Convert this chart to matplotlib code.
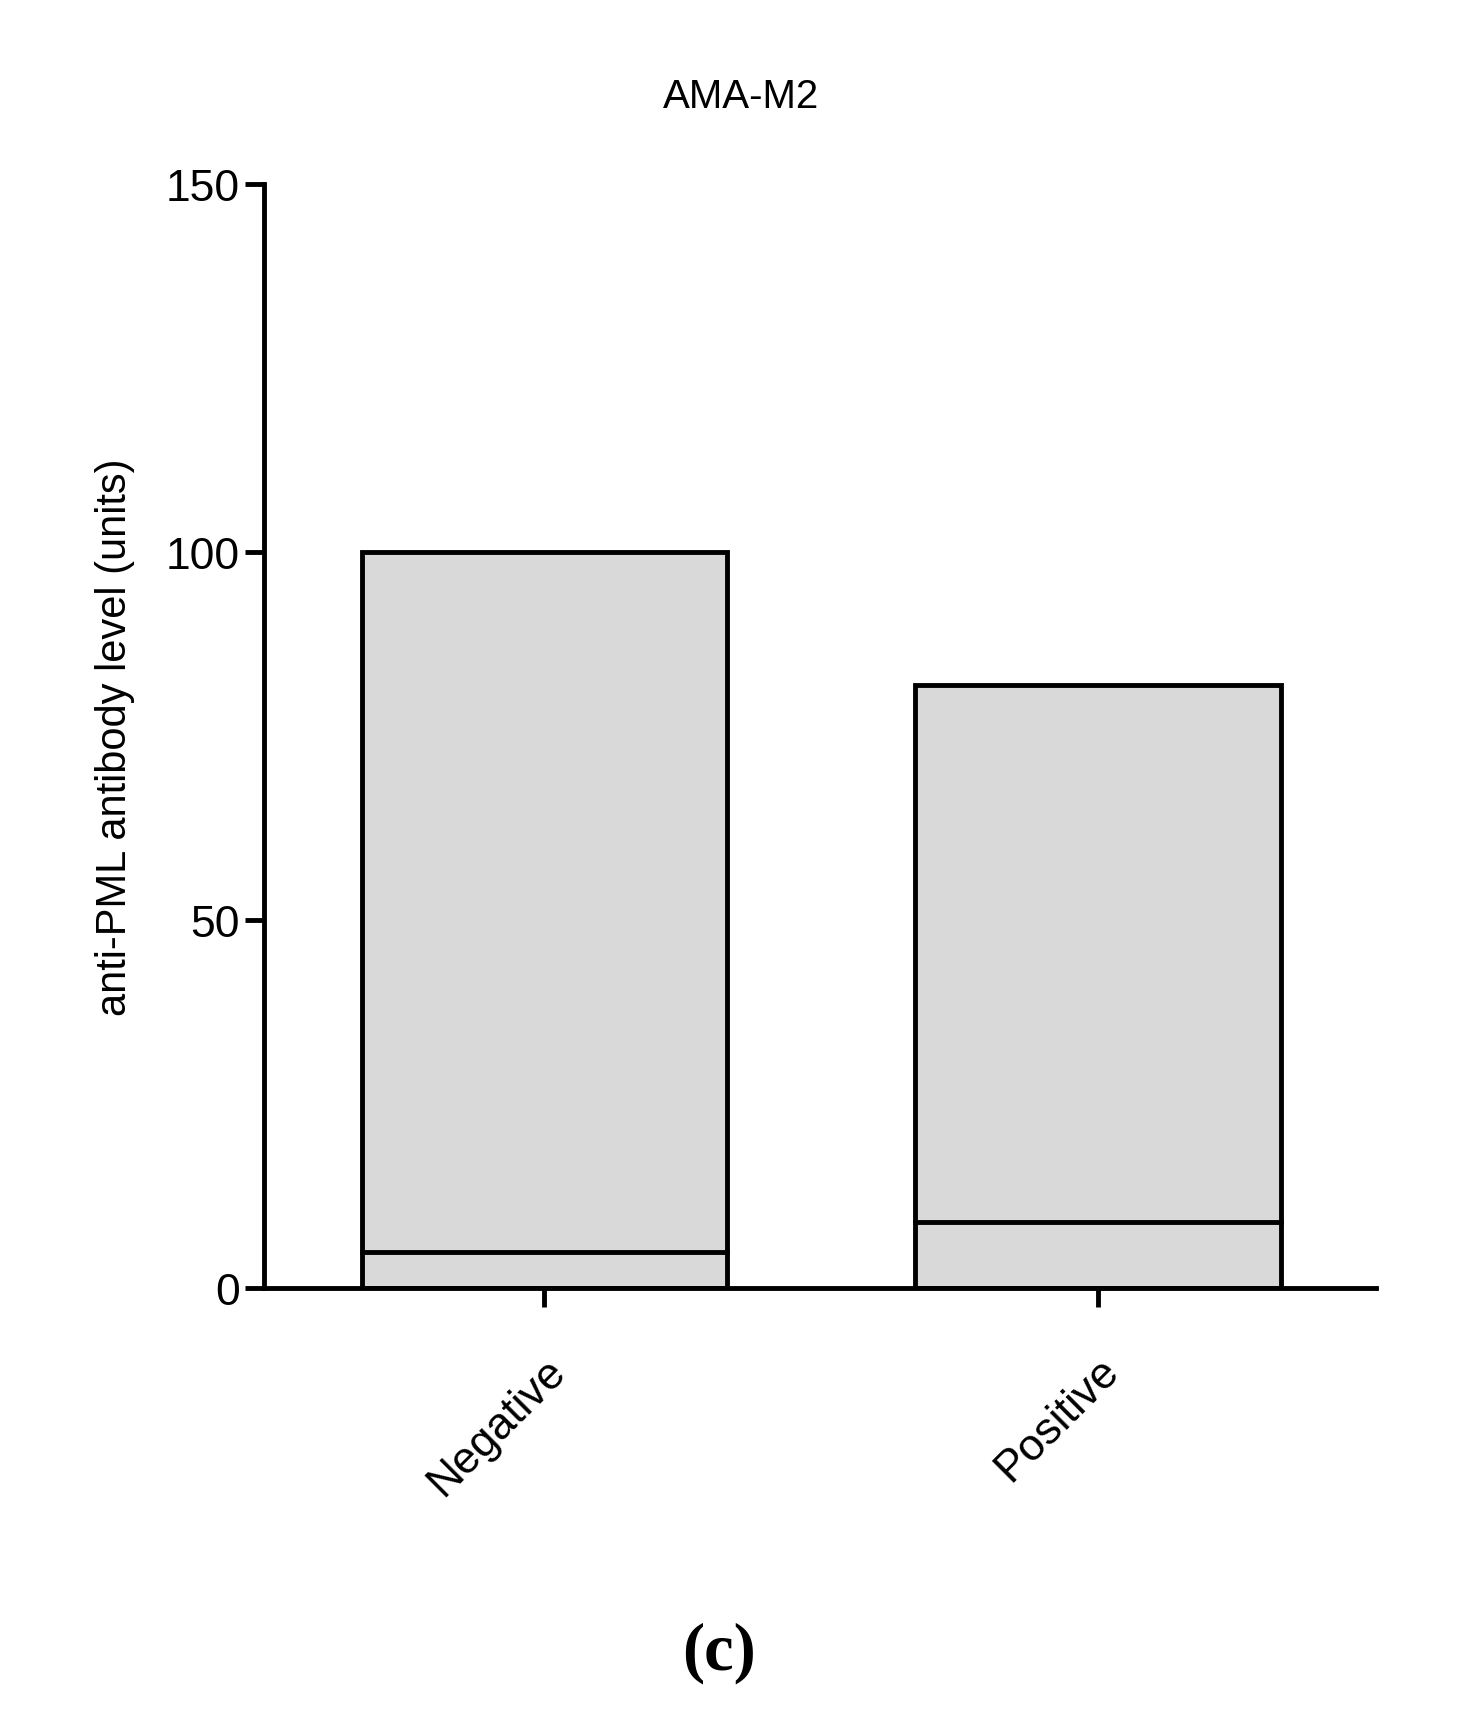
import matplotlib
matplotlib.use("Agg")
import matplotlib.pyplot as plt

categories = ["Negative", "Positive"]
tops = [100, 82]
medians = [5, 9]
yticks = [0, 50, 100, 150]

fig = plt.figure(figsize=(14.67, 17.33), dpi=100)
ax = fig.add_axes([0.18, 0.256, 0.758, 0.637])
pos = list(range(len(categories)))
w = 0.66
ax.bar(pos, tops, width=w, color="#d9d9d9", edgecolor="black", linewidth=3.5)
for p, m in zip(pos, medians):
    ax.plot([p - w/2, p + w/2], [m, m], color="black", lw=3.5)
ax.set_xlim(-0.506, 1.502)
ax.set_ylim(0, 150)
ax.set_yticks(yticks)
ax.set_xticks(pos)
ax.set_xticklabels(categories, rotation=45, ha="right", rotation_mode="anchor",
                   fontsize=31, family="Liberation Sans")
for s in ["top", "right"]:
    ax.spines[s].set_visible(False)
for s in ["left", "bottom"]:
    ax.spines[s].set_linewidth(3.5)
ax.tick_params(axis="both", width=3.5, length=14, labelsize=32)
ax.tick_params(axis="x", pad=30)
for t in ax.get_yticklabels():
    t.set_family("Liberation Sans")
ax.set_ylabel("anti-PML antibody level (units)", fontsize=30, family="Liberation Sans", labelpad=22)
fig.text(0.505, 0.944, "AMA-M2", fontsize=29, family="Liberation Sans", ha="center", va="center")
fig.text(0.49, 0.046, "(c)", fontsize=48, fontweight="bold", family="Liberation Serif", ha="center", va="center")
fig.savefig("out.png", dpi=100, facecolor="white")
